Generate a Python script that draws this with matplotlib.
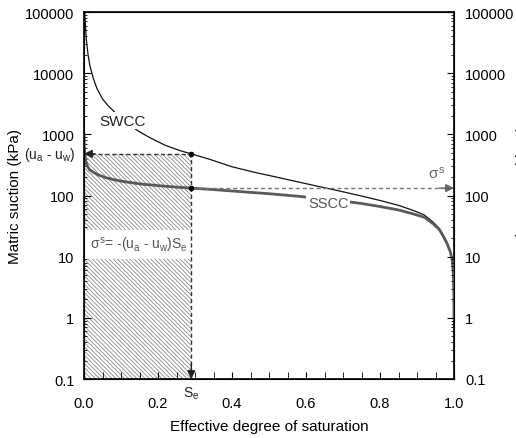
import matplotlib

matplotlib.use("Agg")

import matplotlib.pyplot as plt
from matplotlib.ticker import MultipleLocator, LogLocator

plt.rcParams["font.family"] = ["Liberation Sans", "DejaVu Sans"]
plt.rcParams["mathtext.fontset"] = "custom"
plt.rcParams["mathtext.rm"] = "Liberation Sans"
plt.rcParams["mathtext.it"] = "Liberation Sans"
plt.rcParams["hatch.linewidth"] = 0.6

# soil-water characteristic curve
swcc_se = [0.002, 0.004, 0.007, 0.011, 0.016, 0.025, 0.035, 0.05, 0.065, 0.08,
           0.10, 0.12, 0.15, 0.18, 0.22, 0.26, 0.29, 0.34, 0.40, 0.46,
           0.52, 0.58, 0.64, 0.70, 0.75, 0.80, 0.85, 0.89, 0.92, 0.945,
           0.96, 0.972, 0.982, 0.99, 0.995, 0.998, 0.9995, 1.0]
swcc_psi = [100000, 56000, 32000, 20000, 13200, 8300, 5600, 3800, 2950, 2400,
            1820, 1450, 1100, 870, 660, 540, 480, 390, 295, 240,
            200, 166, 138, 115, 98, 83, 69, 57, 48, 36,
            29, 22, 16.6, 12, 8.9, 5.6, 2.5, 1.0]

# suction stress characteristic curve
sscc_se = [0.0, 0.001, 0.003, 0.006, 0.01, 0.015, 0.025, 0.04, 0.06, 0.08,
           0.11, 0.15, 0.2, 0.25, 0.29, 0.35, 0.42, 0.5, 0.58, 0.64,
           0.70, 0.75, 0.80, 0.85, 0.89, 0.92, 0.945, 0.96, 0.972, 0.982,
           0.99, 0.995, 0.998, 0.9995, 1.0]
sscc_sig = [1000, 600, 420, 340, 295, 265, 240, 215, 195, 182,
            168, 155, 145, 137, 132, 125, 116, 107, 97, 89,
            81, 74, 66, 58, 50, 44, 34, 28, 21, 16,
            12, 8.8, 5.6, 2.5, 1.0]

se_point = 0.29
psi_point = 480
sig_point = 132

x_ticks = [0.0, 0.2, 0.4, 0.6, 0.8, 1.0]
y_ticks = [0.1, 1, 10, 100, 1000, 10000, 100000]
y_labels = ["0.1", "1", "10", "100", "1000", "10000", "100000"]

fig = plt.figure(figsize=(5.16, 4.39), dpi=100)
ax = fig.add_axes([84 / 516, 1 - 380 / 439, 370 / 516, 367 / 439])

ax.set_xlim(0, 1)
ax.set_yscale("log")
ax.set_ylim(0.1, 100000)

# hatched area under (ua - uw) up to Se
ax.fill_between([0, se_point], [0.1, 0.1], [psi_point, psi_point],
                facecolor="none", edgecolor="#8a8a8a", hatch="\\" * 8, linewidth=0)

ax.plot(swcc_se, swcc_psi, color="#111111", lw=0.9, zorder=3)
ax.plot(sscc_se, sscc_sig, color="#5a5a5a", lw=2.0, zorder=3)

# dashed construction lines
ax.plot([0, se_point], [psi_point, psi_point], ls=(0, (3, 2)), color="#333333", lw=1.0, zorder=4)
ax.plot([se_point, se_point], [0.1, psi_point], ls=(0, (3, 2)), color="#333333", lw=1.0, zorder=4)
ax.plot([se_point, 1.0], [sig_point, sig_point], ls=(0, (3, 2)), color="#777777", lw=1.0, zorder=4)

arrow = dict(arrowstyle="-|>", color="#222222", lw=1.0, mutation_scale=12, shrinkA=0, shrinkB=0)
ax.annotate("", xy=(0.0, psi_point), xytext=(0.03, psi_point), arrowprops=arrow, zorder=5)
ax.annotate("", xy=(se_point, 0.1), xytext=(se_point, 0.18), arrowprops=arrow, zorder=5)
arrow_g = dict(arrow, color="#666666")
ax.annotate("", xy=(1.0, sig_point), xytext=(0.96, sig_point), arrowprops=arrow_g, zorder=5)

ax.plot([se_point, se_point], [psi_point, sig_point], "o", color="black", ms=3, zorder=6)

# labels
ax.text(0.105, 1660, "SWCC", ha="center", va="center", fontsize=11, color="#222222",
        bbox=dict(facecolor="white", edgecolor="none", pad=1), zorder=4)
ax.text(0.66, 76, "SSCC", ha="center", va="center", fontsize=10.5, color="#555555",
        bbox=dict(facecolor="white", edgecolor="none", pad=1), zorder=4)
ax.text(0.952, 240, r"$\sigma^{s}$", ha="center", va="center", fontsize=11, color="#666666")
ax.text(0.148, 16, r"$\sigma^{s}$= -(u$_{a}$ - u$_{w}$)S$_{e}$", ha="center", va="center",
        fontsize=10, color="#555555",
        bbox=dict(facecolor="white", edgecolor="none", pad=3.5), zorder=2)
ax.text(-0.022, psi_point, r"(u$_{a}$ - u$_{w}$)", ha="right", va="center", fontsize=10,
        color="#222222", clip_on=False)
ax.text(se_point, -0.037, r"S$_{e}$", ha="center", va="center", fontsize=10,
        color="#222222", transform=ax.get_xaxis_transform())

# axes styling
ax.set_xticks(x_ticks)
ax.set_xticklabels([f"{v:.1f}" for v in x_ticks])
ax.xaxis.set_minor_locator(MultipleLocator(0.05))
ax.set_yticks(y_ticks)
ax.set_yticklabels(y_labels)
ax.yaxis.set_minor_locator(LogLocator(base=10, subs=range(2, 10), numticks=20))
ax.tick_params(which="both", direction="in", top=False, right=False, labelsize=10.5)
ax.tick_params(axis="y", which="major", length=5, pad=7)
ax.tick_params(axis="y", which="minor", length=2.5)
ax.tick_params(axis="x", which="major", length=5, pad=12)
ax.tick_params(axis="x", which="minor", length=5)
for sp in ax.spines.values():
    sp.set_linewidth(1.2)

ax.set_xlabel("Effective degree of saturation", fontsize=11, labelpad=7)
ax.set_ylabel("Matric suction (kPa)", fontsize=11, labelpad=2)

ax2 = ax.twinx()
ax2.set_yscale("log")
ax2.set_ylim(0.1, 100000)
ax2.set_yticks(y_ticks)
ax2.set_yticklabels(y_labels)
ax2.yaxis.set_minor_locator(LogLocator(base=10, subs=range(2, 10), numticks=20))
ax2.tick_params(which="both", direction="in", labelsize=10.5)
ax2.tick_params(which="major", length=5, pad=8)
ax2.tick_params(which="minor", length=2.5)
ax2.set_ylabel("Suction stress (-kPa)", fontsize=11, labelpad=1)

fig.savefig("out.png", dpi=100)
